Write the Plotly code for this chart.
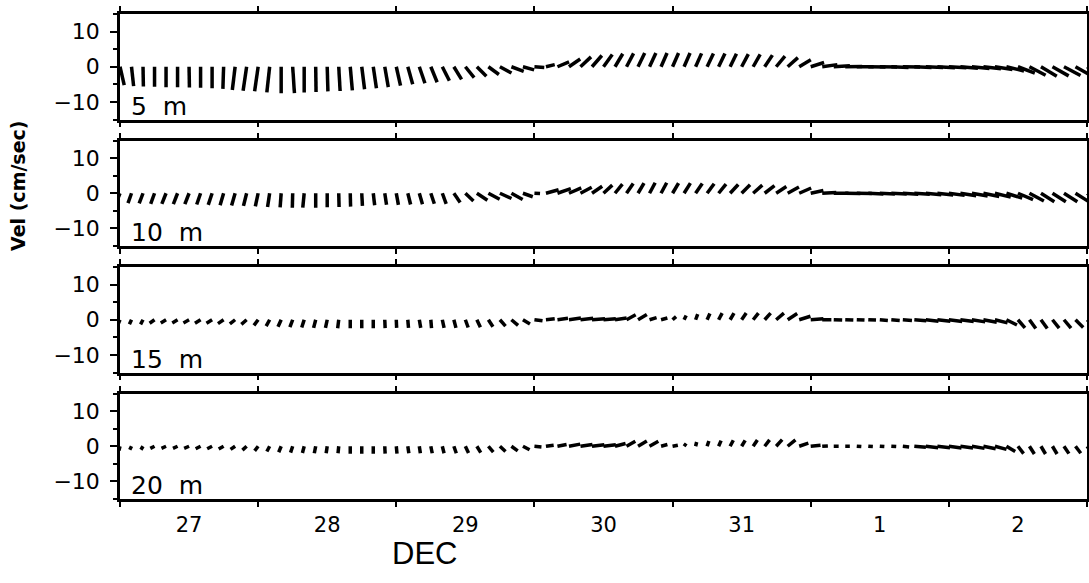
import plotly.graph_objects as go
from plotly.subplots import make_subplots
from datetime import datetime, timedelta

# ---------------- data ----------------
start = datetime(1989, 12, 27)
step_hours = 2
n_days = 7
depth_labels = ["5\u00a0\u00a0m", "10\u00a0\u00a0m", "15\u00a0\u00a0m", "20\u00a0\u00a0m"]
y_ticks = [-10, 0, 10]
y_minor = [-15, -5, 5, 15]
y_range = [-15, 15]

u_5m = [1.2, 0.6, 0.1, 0.0, 0.0, 0.0, 0.1, 0.0, 0.0, -0.2, -0.8, -1.0,
        -1.0, -0.8, 0.0, 0.5, 0.0, 0.1, 0.2, 0.4, 0.6, 0.8, 0.9, 1.0,
        1.2, 1.4, 1.6, 1.8, 2.0, 2.2, 2.5, 2.7, 3.0, 3.3, 3.5, 3.2,
        2.8, 2.5, 3.3, 3.2, 3.0, 2.8, 2.5, 2.2, 2.0, 1.9, 1.8, 1.7,
        1.7, 1.7, 1.7, 1.8, 1.8, 1.8, 1.9, 2.0, 2.2, 2.5, 2.9, 3.3,
        3.8, 4.3, 4.6, 4.8, 4.8, 4.9, 4.9, 4.9, 4.9, 4.9, 4.9, 5.0,
        5.0, 5.0, 5.0, 5.0, 5.0, 5.0, 4.8, 4.6, 4.5, 4.6, 4.7, 4.6,
        4.3]
v_5m = [-5.2, -5.5, -5.6, -5.7, -5.8, -5.8, -5.9, -6.0, -6.1, -6.3, -6.6, -6.8,
        -7.0, -7.3, -7.5, -7.5, -7.3, -7.2, -7.0, -6.9, -6.7, -6.4, -6.1, -5.8,
        -5.4, -5.0, -4.7, -4.4, -4.0, -3.6, -3.1, -2.7, -2.2, -1.8, -1.3, -0.9,
        -0.2, 0.6, 1.4, 2.2, 2.8, 3.2, 3.5, 3.7, 3.8, 3.9, 3.9, 3.9,
        3.9, 3.9, 3.8, 3.8, 3.8, 3.7, 3.6, 3.5, 3.3, 3.0, 2.6, 2.0,
        1.2, 0.6, 0.3, 0.1, 0.0, -0.1, -0.1, -0.2, -0.1, -0.2, -0.2, -0.3,
        -0.3, -0.4, -0.5, -0.6, -0.8, -1.2, -1.8, -2.4, -2.7, -2.6, -2.5, -2.6,
        -2.2]

u_10m = [-0.8, -1.0, -1.1, -1.1, -1.2, -1.2, -1.2, -1.1, -1.1, -1.0, -1.0, -0.9,
         -0.8, -0.6, -0.3, -0.1, -0.4, 0.0, 0.0, 0.1, 0.1, 0.2, 0.4, 0.5,
         0.6, 0.8, 0.9, 1.0, 1.1, 1.8, 2.3, 3.0, 3.2, 3.3, 3.2, 2.8,
         1.6, 3.6, 3.8, 3.5, 3.2, 2.9, 2.5, 2.1, 1.9, 1.7, 1.6, 1.6,
         1.7, 1.8, 1.9, 2.0, 2.1, 2.3, 2.4, 2.6, 2.8, 2.9, 3.2, 3.4,
         3.6, 4.0, 4.2, 4.3, 4.3, 4.3, 4.3, 4.4, 4.4, 4.4, 4.4, 4.5,
         4.5, 4.5, 4.5, 4.5, 4.5, 4.5, 4.3, 4.1, 3.8, 3.8, 3.8, 3.8,
         3.8]
v_10m = [-2.0, -2.8, -2.9, -3.0, -3.0, -3.1, -3.1, -3.2, -3.3, -3.4, -3.5, -3.6,
         -3.7, -3.9, -4.0, -4.1, -4.1, -4.1, -4.0, -3.9, -3.8, -3.6, -3.4, -3.3,
         -3.3, -3.2, -3.1, -3.0, -3.0, -2.6, -2.2, -2.0, -1.7, -1.5, -1.8, -1.0,
         -0.1, 1.0, 1.3, 1.5, 1.7, 2.0, 2.3, 2.6, 2.8, 2.9, 3.0, 3.0,
         2.9, 2.9, 2.8, 2.7, 2.6, 2.5, 2.4, 2.3, 2.2, 1.9, 1.8, 1.5,
         0.8, 0.2, 0.0, -0.1, -0.1, -0.2, -0.2, -0.2, -0.3, -0.3, -0.4, -0.5,
         -0.6, -0.7, -0.8, -0.9, -1.1, -1.4, -1.8, -2.2, -2.4, -2.4, -2.4, -2.4,
         -2.3]

u_15m = [-0.5, -0.6, -0.7, -1.4, -1.5, -1.5, -1.6, -1.6, -1.6, -1.6, -1.5, -1.5,
         -1.2, -1.0, -0.9, -0.8, -0.7, -0.6, -0.5, -0.3, 0.0, 0.0, 0.0, 0.1,
         0.1, 0.2, 0.4, 0.2, 0.5, 0.6, 0.8, 1.0, 1.3, 1.6, 1.9, 2.0,
         2.3, 2.5, 3.0, 3.4, 3.6, 3.7, 3.5, 3.3, 2.6, 2.5, 2.0, 1.8,
         1.0, 0.6, 0.6, 0.8, 1.0, 1.1, 1.3, 1.5, 1.7, 2.2, 2.7, 3.2,
         3.6, 2.6, 2.4, 2.3, 2.2, 2.2, 2.3, 2.4, 2.6, 3.4, 3.6, 3.7,
         3.8, 3.8, 3.8, 3.8, 3.6, 3.0, 2.0, 1.8, 1.8, 1.9, 2.0, 2.2,
         2.5]
v_15m = [-1.2, -1.3, -1.3, -1.0, -0.9, -0.9, -0.9, -1.0, -1.0, -1.1, -1.2, -1.3,
         -1.6, -1.8, -2.0, -2.1, -2.2, -2.3, -2.3, -2.4, -2.4, -2.4, -2.4, -2.4,
         -2.3, -2.3, -2.3, -2.4, -2.3, -2.3, -2.2, -2.1, -2.0, -1.8, -1.6, -1.2,
         -0.3, 0.3, 0.4, 0.5, 0.4, 0.3, 0.3, 0.5, 1.4, 1.5, 0.6, 0.5,
         0.9, 1.2, 1.6, 1.8, 1.9, 1.9, 1.9, 1.9, 1.9, 1.9, 1.8, 1.0,
         0.3, 0.0, -0.1, -0.1, -0.1, -0.1, -0.2, -0.2, -0.2, -0.3, -0.4, -0.4,
         -0.5, -0.5, -0.6, -0.7, -0.9, -1.5, -2.3, -2.5, -2.5, -2.4, -2.4, -2.2,
         -2.0]

u_20m = [-0.3, -0.5, -0.6, -1.2, -1.3, -1.3, -1.4, -1.4, -1.4, -1.4, -1.3, -1.2,
         -1.0, -0.8, -0.7, -0.6, -0.5, -0.4, -0.3, -0.2, 0.0, 0.0, 0.0, 0.1,
         0.2, 0.3, 0.3, 0.4, 0.5, 0.7, 0.9, 1.1, 1.4, 1.6, 1.8, 1.9,
         2.0, 2.2, 2.6, 3.2, 3.4, 3.5, 3.5, 3.0, 2.5, 2.5, 2.5, 1.8,
         1.5, 0.6, 0.3, 0.5, 0.7, 0.9, 1.0, 1.2, 1.4, 1.7, 2.2, 2.6,
         2.8, 1.6, 1.4, 1.3, 1.3, 1.3, 1.3, 1.4, 1.8, 3.3, 3.5, 3.6,
         3.6, 3.6, 3.6, 3.5, 3.3, 2.5, 1.6, 1.4, 1.3, 1.3, 1.4, 1.5,
         1.6]
v_20m = [-1.2, -1.0, -1.0, -0.6, -0.6, -0.6, -0.6, -0.7, -0.7, -0.8, -0.9, -1.1,
         -1.3, -1.5, -1.7, -1.8, -1.9, -2.0, -2.0, -2.0, -2.1, -2.1, -2.1, -2.1,
         -2.1, -2.0, -2.0, -2.0, -2.0, -2.0, -1.9, -1.8, -1.7, -1.5, -1.3, -1.0,
         -0.2, 0.3, 0.5, 0.6, 0.5, 0.4, 0.4, 0.8, 1.4, 1.5, 1.4, 0.5,
         0.3, 0.8, 1.2, 1.5, 1.6, 1.7, 1.7, 1.8, 1.8, 1.9, 1.8, 0.9,
         0.3, 0.1, 0.0, 0.0, -0.1, -0.1, -0.1, -0.1, -0.2, -0.3, -0.4, -0.4,
         -0.5, -0.5, -0.6, -0.7, -0.9, -1.5, -2.1, -2.2, -2.2, -2.2, -2.1, -2.0,
         -1.9]

series_u = [u_5m, u_10m, u_15m, u_20m]
series_v = [v_5m, v_10m, v_15m, v_20m]

# ---------------- layout geometry ----------------
W, H = 1089, 583
ML, MR, MT, MB = 120, 2, 14, 84
plot_w = W - ML - MR
plot_h = H - MT - MB
gap_px = 21
vspace = gap_px / plot_h
panel_px = (plot_h - 3 * gap_px) / 4

# sticks keep true direction: convert east component (cm/s) to days
px_per_unit_y = panel_px / (y_range[1] - y_range[0])
px_per_day = plot_w / n_days
days_per_unit = px_per_unit_y / px_per_day

fig = make_subplots(rows=4, cols=1, shared_xaxes=True, vertical_spacing=vspace)

end = start + timedelta(days=n_days)
for r, (us, vs) in enumerate(zip(series_u, series_v), start=1):
    xs, ys = [], []
    for i, (uu, vv) in enumerate(zip(us, vs)):
        t = start + timedelta(hours=step_hours * i)
        xs += [t, t + timedelta(days=uu * days_per_unit), None]
        ys += [0, vv, None]
    fig.add_trace(go.Scatter(x=xs, y=ys, mode="lines",
                             line=dict(color="black", width=3.5),
                             showlegend=False, hoverinfo="skip"),
                  row=r, col=1)

    fig.update_xaxes(row=r, col=1, type="date", range=[start, end],
                     tick0=start, dtick=86400000, ticks="outside", ticklen=5,
                     tickwidth=2, tickcolor="black", mirror="ticks",
                     showline=True, linewidth=2.5, linecolor="black",
                     showgrid=False, zeroline=False,
                     showticklabels=(r == 4), automargin=False)
    fig.update_yaxes(row=r, col=1, range=y_range, tickmode="array",
                     tickvals=y_ticks, ticks="outside", ticklen=7, tickwidth=2,
                     tickcolor="black",
                     minor=dict(tickmode="array", tickvals=y_minor,
                                ticks="outside", ticklen=4, tickwidth=2,
                                tickcolor="black"),
                     showline=True, mirror=True, linewidth=2.5,
                     linecolor="black", showgrid=False, zeroline=False,
                     tickfont=dict(family="DejaVu Sans", size=22, color="black"),
                     ticklabelstandoff=6, automargin=False)
    yref = "y domain" if r == 1 else f"y{r} domain"
    xref = "x domain" if r == 1 else f"x{r} domain"
    fig.add_annotation(text=depth_labels[r - 1], xref=xref, yref=yref,
                       x=0.01, y=-0.02, xanchor="left", yanchor="bottom",
                       showarrow=False, borderpad=0,
                       font=dict(family="DejaVu Sans", size=25, color="black"))

fig.update_xaxes(row=4, col=1, tickformat="%-d", ticklabelmode="period",
                 tickfont=dict(family="DejaVu Sans", size=21, color="black"),
                 ticklabelstandoff=0)

fig.add_annotation(text="DEC", xref="paper", yref="paper",
                   x=(424 - ML) / plot_w, y=(H - MB - 553) / plot_h,
                   xanchor="center", yanchor="middle", showarrow=False,
                   font=dict(family="Liberation Sans", size=31, color="black"))
fig.add_annotation(text="<b>Vel (cm/sec)</b>", xref="paper", yref="paper",
                   x=(18 - ML) / plot_w, y=(H - MB - 186) / plot_h,
                   xanchor="center", yanchor="middle", textangle=-90,
                   showarrow=False,
                   font=dict(family="DejaVu Sans", size=19, color="black"))

fig.update_layout(width=W, height=H,
                  margin=dict(l=ML, r=MR, t=MT, b=MB, autoexpand=False),
                  paper_bgcolor="white", plot_bgcolor="white")

fig.write_html("out.html", config={"displayModeBar": False},
               post_script="document.body.style.margin='0';"
                           "document.body.style.overflow='hidden';")
